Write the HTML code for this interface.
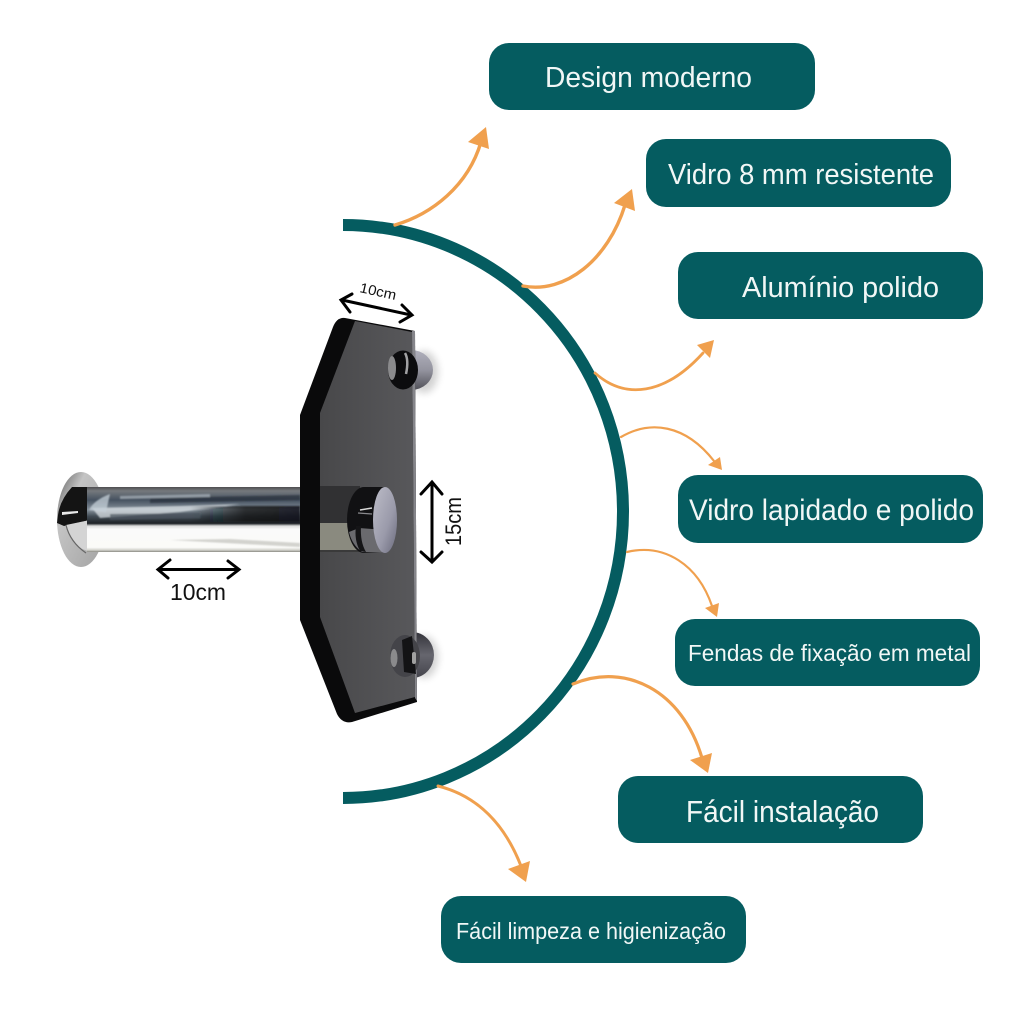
<!DOCTYPE html>
<html>
<head>
<meta charset="utf-8">
<style>
html,body{margin:0;padding:0;background:#fff;width:1024px;height:1024px;overflow:hidden}
svg{display:block}
text{font-family:"Liberation Sans",sans-serif}
.t{fill:#f1f7f6}
.o{fill:none;stroke:#f0a04e;stroke-linecap:round}
.h{fill:#f0a04e}
.d{fill:none;stroke:#000;stroke-width:3;stroke-linecap:round;stroke-linejoin:miter}
</style>
</head>
<body>
<svg width="1024" height="1024" viewBox="0 0 1024 1024" xmlns="http://www.w3.org/2000/svg">
<defs>
<linearGradient id="rod" x1="0" y1="0" x2="0" y2="1">
<stop offset="0" stop-color="#4e4e50"/><stop offset=".06" stop-color="#75797d"/><stop offset=".2" stop-color="#465260"/><stop offset=".35" stop-color="#86919b"/><stop offset=".45" stop-color="#424c55"/><stop offset=".56" stop-color="#1e2226"/><stop offset=".6" stop-color="#dedede"/><stop offset=".65" stop-color="#fafafa"/><stop offset=".93" stop-color="#fbfbf8"/><stop offset=".97" stop-color="#d2d2cc"/><stop offset="1" stop-color="#8a8a82"/>
</linearGradient>
<linearGradient id="fade" x1="0" y1="0" x2="1" y2="0">
<stop offset="0" stop-color="#0e1114" stop-opacity="0"/><stop offset=".5" stop-color="#0e1114" stop-opacity=".75"/><stop offset="1" stop-color="#0e1114" stop-opacity=".85"/>
</linearGradient>
<linearGradient id="face" x1="0" y1="0" x2="1" y2="0">
<stop offset="0" stop-color="#48484a"/><stop offset="1" stop-color="#58585b"/>
</linearGradient>
<linearGradient id="cap" x1="0" y1="0" x2="1" y2="1">
<stop offset="0" stop-color="#bdbdc8"/><stop offset=".6" stop-color="#9a9aaa"/><stop offset="1" stop-color="#6a6a7c"/>
</linearGradient>
<linearGradient id="bolt" x1="0" y1="0" x2="0" y2="1">
<stop offset="0" stop-color="#b0b0bc"/><stop offset=".5" stop-color="#94949f"/><stop offset="1" stop-color="#505058"/>
</linearGradient>
<linearGradient id="bolt2" x1="0" y1="0" x2="0" y2="1">
<stop offset="0" stop-color="#33333a"/><stop offset=".5" stop-color="#66666e"/><stop offset="1" stop-color="#44444c"/>
</linearGradient>
<linearGradient id="flange" x1="0" y1="0" x2="1" y2="1">
<stop offset="0" stop-color="#5a5a5a"/><stop offset=".3" stop-color="#c4c4c4"/><stop offset="1" stop-color="#a2a2a2"/>
</linearGradient>
<filter id="soft" x="-30%" y="-30%" width="160%" height="160%"><feGaussianBlur stdDeviation="4"/></filter>
<filter id="sl" x="-10%" y="-100%" width="120%" height="300%"><feGaussianBlur stdDeviation=".8"/></filter>
</defs>

<!-- Buttons -->
<g fill="#055c60">
<rect x="489" y="43" width="326" height="67" rx="20"/>
<rect x="646" y="139" width="305" height="68" rx="20"/>
<rect x="678" y="252" width="305" height="67" rx="20"/>
<rect x="678" y="475" width="305" height="68" rx="20"/>
<rect x="675" y="619" width="305" height="67" rx="20"/>
<rect x="618" y="776" width="305" height="67" rx="20"/>
<rect x="441" y="896" width="305" height="67" rx="20"/>
</g>
<g>
<text class="t" x="545" y="87" font-size="29" textLength="207" lengthAdjust="spacingAndGlyphs">Design moderno</text>
<text class="t" x="668" y="184" font-size="29" textLength="266" lengthAdjust="spacingAndGlyphs">Vidro 8 mm resistente</text>
<text class="t" x="742" y="297" font-size="29" textLength="197" lengthAdjust="spacingAndGlyphs">Alumínio polido</text>
<text class="t" x="689" y="520" font-size="30" textLength="285" lengthAdjust="spacingAndGlyphs">Vidro lapidado e polido</text>
<text class="t" x="688" y="661" font-size="23" textLength="283" lengthAdjust="spacingAndGlyphs">Fendas de fixação em metal</text>
<text class="t" x="686" y="822" font-size="31" textLength="193" lengthAdjust="spacingAndGlyphs">Fácil instalação</text>
<text class="t" x="456" y="939" font-size="23" textLength="270" lengthAdjust="spacingAndGlyphs">Fácil limpeza e higienização</text>
</g>

<!-- Big arc -->
<path d="M343 225 A280 286.5 0 0 1 343 798" fill="none" stroke="#055c60" stroke-width="12"/>

<!-- Orange arrows -->
<path class="o" stroke-width="3.4" d="M395 225 C432 214 468 186 481 142"/>
<polygon class="h" points="486,127 468,142 489,149"/>
<path class="o" stroke-width="3.4" d="M523 286 C565 294 608 260 625 205"/>
<polygon class="h" points="632,189 614,203 635,211"/>
<path class="o" stroke-width="2.8" d="M595 373 C625 400 665 395 703 353"/>
<polygon class="h" points="714,340 697,345 710,358"/>
<path class="o" stroke-width="2.2" d="M621 437 C650 420 685 424 714 461"/>
<polygon class="h" points="722,470 708,465 720,457"/>
<path class="o" stroke-width="2.2" d="M627 552 C665 543 698 565 712 606"/>
<polygon class="h" points="717,617 705,608 719,603"/>
<path class="o" stroke-width="3.2" d="M573 684 C625 662 682 690 702 758"/>
<polygon class="h" points="708,773 690,760 712,753"/>
<path class="o" stroke-width="3" d="M438 786 C478 796 505 825 521 866"/>
<polygon class="h" points="526,882 508,869 530,861"/>

<!-- Rod flange -->
<ellipse cx="81" cy="519.5" rx="24" ry="47.5" fill="url(#flange)"/>
<path d="M72 487 Q60 500 58 515 L57 523 L64 526 L90 520 L90 487 Z" fill="#141414"/>
<path d="M62 512 L78 511 L78 513 L62 515 Z" fill="#e8e8e8"/>
<path d="M66 525 L90 520 L90 552 L80 548 Q70 538 66 525 Z" fill="#d4d4d4"/>
<path d="M66 525 Q70 542 86 553" stroke="#666" stroke-width="1.2" fill="none"/>
<!-- Rod -->
<rect x="87" y="487" width="213" height="65" fill="url(#rod)"/>
<!-- rod streaks -->
<g filter="url(#sl)">
<path d="M92 508 L180 506 L240 504 L180 512 L100 518 Z" fill="#dfe6ea" opacity=".7"/>
<path d="M150 498 L300 495 L300 500 L150 503 Z" fill="#222a30" opacity=".6"/>
<path d="M120 496 L210 494 L210 497 L120 499 Z" fill="#aab4bc" opacity=".7"/>
<rect x="190" y="506" width="110" height="16" fill="url(#fade)"/>
<path d="M110 514 L200 513 L200 518 L110 520 Z" fill="#4c5660" opacity=".7"/>
<path d="M89 510 Q94 500 110 494 L106 512 Z" fill="#c6d0d8" opacity=".75"/>
<path d="M170 540 L300 547 L300 543 L230 539 Z" fill="#b8b8b2" opacity=".6"/>
</g>

<!-- Bolt shadows -->
<ellipse cx="424" cy="372" rx="14" ry="21" fill="#000" opacity=".18" filter="url(#soft)"/>
<ellipse cx="424" cy="657" rx="14" ry="21" fill="#000" opacity=".18" filter="url(#soft)"/>
<!-- Bolts behind plate -->
<ellipse cx="411" cy="370" rx="22" ry="20" fill="url(#bolt)"/>
<ellipse cx="412" cy="655" rx="22" ry="23" fill="url(#bolt2)"/>

<!-- Plate -->
<path d="M345 318 L415 331 L417 702 L352 722 Q342 724 337 714 L300 620 L300 415 L333 327 Q337 317 345 318 Z" fill="#0a0a0b"/>
<path d="M355 321 L412 332 L415 697 L355 713 L320 617 L320 413 Z" fill="url(#face)"/>
<path d="M412 331 L415 331 L417 701 L415 698 Z" fill="#85858a"/>

<!-- Rod through plate -->
<rect x="320" y="486" width="40" height="37" fill="#313133"/>
<rect x="320" y="523" width="40" height="28" fill="#8a8a7f"/>
<rect x="320" y="550" width="40" height="2" fill="#3a3a3a"/>
<!-- Main cap -->
<path d="M364 487 L386 487 L386 553 L364 553 A17 33 0 0 1 364 487 Z" fill="#111113"/>
<path d="M349 532 Q352 545 362 552 L386 553 L386 530 L359 528 Z" fill="#6a6a6e"/>
<path d="M356 526 L361 526 Q360 542 366 552 L360 551 Q354 540 356 526 Z" fill="#151517"/>
<path d="M360 510 L372 508" stroke="#d8d8d8" stroke-width="1.5"/>
<path d="M358 513 L372 514" stroke="#8a8a8e" stroke-width="1.3"/>
<ellipse cx="385" cy="520" rx="12" ry="33" fill="url(#cap)"/>

<!-- Small bolt inner portions -->
<ellipse cx="403" cy="370" rx="15" ry="19.5" fill="#0c0c0e"/>
<ellipse cx="392" cy="368" rx="4" ry="12" fill="#8a8a8c"/>
<path d="M405 353 Q409 360 406 374" stroke="#c8c8ca" stroke-width="2.5" fill="none" opacity=".8"/>
<ellipse cx="405" cy="656" rx="15" ry="21" fill="#444449"/>
<path d="M402 640 L412 636 L416 674 L404 672 Z" fill="#131315"/>
<ellipse cx="394" cy="658" rx="3.5" ry="9" fill="#8a8a8c"/>
<rect x="412" y="652" width="4" height="12" rx="2" fill="#a0a0a0"/>

<!-- Dimension arrows -->
<g class="d">
<path d="M342 300 L411 315"/><path d="M352 294 L341 300 L350 312"/><path d="M402 305 L412 315 L400 322"/>
<path d="M432 483 L432 560"/><path d="M421 494 L432 482 L442 494"/><path d="M421 552 L432 562 L442 552"/>
<path d="M159 569.500 L237 569.500"/><path d="M170 560 L158 569.500 L168 578"/><path d="M228 561 L239 569.500 L228 578"/>
</g>
<text x="359" y="292" font-size="14" transform="rotate(12.500 359 292)" textLength="37" lengthAdjust="spacingAndGlyphs" fill="#111">10cm</text>
<text x="170" y="600" font-size="23" textLength="56" lengthAdjust="spacingAndGlyphs" fill="#111">10cm</text>
<text x="461" y="546" font-size="22" transform="rotate(-90 461 546)" textLength="49" lengthAdjust="spacingAndGlyphs" fill="#111">15cm</text>
</svg>
</body>
</html>
